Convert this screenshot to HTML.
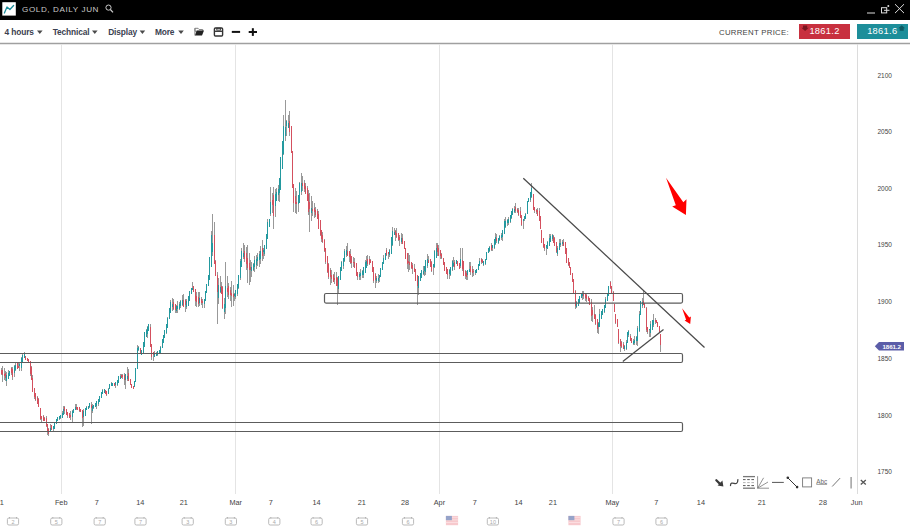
<!DOCTYPE html>
<html><head><meta charset="utf-8">
<style>
*{margin:0;padding:0;box-sizing:border-box}
html,body{width:910px;height:527px;overflow:hidden;background:#fff;font-family:"Liberation Sans",sans-serif}
.a{position:absolute;white-space:nowrap}
#hdr{position:absolute;left:0;top:0;width:910px;height:20px;background:#000}
#title{left:22px;top:4px;font-size:8.1px;color:#c8c8c8;letter-spacing:0.6px;line-height:11px}
.mi{top:26.5px;font-size:8.4px;font-weight:bold;color:#3b4150;line-height:10px;letter-spacing:-0.15px}
.tri{position:absolute;width:0;height:0;border-left:2.9px solid transparent;border-right:2.9px solid transparent;border-top:3.2px solid #484848}
#cp{left:719px;top:28px;font-size:7.8px;color:#444;letter-spacing:0.27px;line-height:10px}
.pbox{position:absolute;top:24px;height:15px;color:#fff;font-size:9.3px;line-height:15px;text-align:center;letter-spacing:0.3px}
.yl{left:877.5px;font-size:6.5px;color:#444;line-height:8px}
.xl{top:497.8px;font-size:7.3px;color:#444;line-height:10px;transform:translateX(-50%)}
</style></head><body>
<div id="hdr"></div>
<svg class="a" style="left:0;top:0" width="910" height="527" viewBox="0 0 910 527">
 <!-- logo -->
 <rect x="2.3" y="2.2" width="13.5" height="13.4" fill="#fff"/>
 <polyline points="4.4,13 7,7 9.9,9.5 13.6,5.5" fill="none" stroke="#1a8a98" stroke-width="1.3" stroke-linejoin="round" stroke-linecap="round"/>
 <!-- search icon -->
 <circle cx="108.5" cy="7.6" r="2.6" fill="none" stroke="#ccc" stroke-width="1"/>
 <line x1="110.4" y1="9.5" x2="113" y2="12.3" stroke="#ccc" stroke-width="1.2"/>
 <!-- window controls -->
 <line x1="867" y1="13" x2="875" y2="13" stroke="#ddd" stroke-width="1"/>
 <rect x="881.5" y="7.7" width="5.2" height="5.2" fill="none" stroke="#ddd" stroke-width="1"/>
 <line x1="884" y1="10.3" x2="889.5" y2="10.3" stroke="#ddd" stroke-width="1"/>
 <circle cx="888.3" cy="6" r="1" fill="#ddd"/>
 <line x1="895" y1="4.2" x2="904" y2="13.1" stroke="#ddd" stroke-width="1"/>
 <line x1="904" y1="4.2" x2="895" y2="13.1" stroke="#ddd" stroke-width="1"/>
 <!-- toolbar separator -->
 <line x1="0" y1="43.5" x2="910" y2="43.5" stroke="#a0a0a0" stroke-width="1.3"/>
 <!-- toolbar icons -->
 <polygon points="37,30.6 42.6,30.6 39.8,33.9" fill="#4a4a4a"/><polygon points="92,30.6 97.6,30.6 94.8,33.9" fill="#4a4a4a"/><polygon points="139.6,30.6 145.2,30.6 142.4,33.9" fill="#4a4a4a"/><polygon points="178.2,30.6 183.79999999999998,30.6 181.0,33.9" fill="#4a4a4a"/>
 <path d="M194.9 28.3h3.2l1 1.2h3.6v1.8h-7.6z" fill="none" stroke="#777" stroke-width="0.9"/>
 <path d="M194.8 35.4l2-5h7.2l-2 5z" fill="#222"/>
 <path d="M194.9 28.3V35.4" stroke="#777" stroke-width="0.9"/>
 <rect x="214.4" y="28" width="8.2" height="8" rx="1" fill="none" stroke="#333" stroke-width="1.4"/>
 <rect x="216.8" y="28.2" width="3.6" height="1.9" fill="none" stroke="#333" stroke-width="0.9"/>
 <line x1="214.4" y1="31.3" x2="222.6" y2="31.3" stroke="#333" stroke-width="1.3"/>
 <line x1="231.8" y1="31.9" x2="240.1" y2="31.9" stroke="#111" stroke-width="2"/>
 <line x1="248.7" y1="32" x2="257" y2="32" stroke="#111" stroke-width="2"/>
 <line x1="252.85" y1="28.2" x2="252.85" y2="35.9" stroke="#111" stroke-width="2"/>
 <!-- chart grid -->
 <g stroke="#e4e4e4" stroke-width="1">
  <line x1="61.5" y1="44" x2="61.5" y2="494"/>
  <line x1="235.5" y1="44" x2="235.5" y2="494"/>
  <line x1="439.5" y1="44" x2="439.5" y2="494"/>
  <line x1="612.5" y1="44" x2="612.5" y2="494"/>
 </g>
 <line x1="857.5" y1="44" x2="857.5" y2="494" stroke="#dcdcdc" stroke-width="1"/>
 <!-- candles -->
 <path d='M1.5 368.0V374.9M2.5 366.0V381.8M4.5 368.2V379.6M5.5 371.1V380.7M6.5 372.3V386.0M8.5 370.4V378.7M9.5 370.8V376.2M11.5 367.1V374.5M12.5 366.6V379.5M14.5 364.9V377.0M15.5 363.0V370.8M17.5 363.0V368.6M18.5 363.0V368.4M19.5 362.4V371.3M21.5 357.3V370.7M22.5 353.7V362.9M24.5 351.9V358.3M25.5 356.1V359.9M27.5 357.6V361.3M28.5 358.8V362.5M30.5 361.0V375.8M31.5 366.3V380.1M32.5 374.9V392.3M34.5 387.7V398.6M35.5 393.5V400.6M37.5 396.4V403.6M38.5 398.2V407.3M40.5 407.7V419.5M41.5 416.5V422.0M43.5 415.1V420.7M44.5 416.9V420.7M46.5 416.1V426.5M47.5 424.1V435.2M48.5 427.9V435.5M50.5 424.3V432.1M51.5 424.5V430.2M53.5 426.3V431.1M54.5 423.2V428.6M56.5 418.7V424.3M57.5 416.9V420.7M59.5 415.5V419.6M60.5 415.3V419.2M62.5 410.7V418.1M63.5 405.5V415.1M64.5 406.3V414.2M66.5 409.3V415.0M67.5 411.9V417.9M69.5 413.4V418.0M70.5 410.7V419.6M72.5 410.2V422.0M73.5 408.6V413.1M75.5 404.2V410.1M76.5 403.9V410.0M77.5 406.7V410.0M79.5 406.6V411.6M80.5 408.6V411.9M82.5 409.6V426.8M83.5 409.0V425.7M85.5 407.5V415.8M86.5 406.4V410.0M88.5 406.0V409.2M89.5 402.5V407.8M91.5 402.4V423.8M92.5 404.0V412.8M93.5 405.3V408.6M95.5 403.0V407.3M96.5 401.3V408.7M98.5 398.7V406.2M99.5 395.7V402.1M101.5 392.1V398.3M102.5 388.8V394.2M104.5 388.9V393.1M105.5 389.9V393.8M106.5 390.8V396.0M108.5 388.2V393.9M109.5 384.2V389.3M111.5 382.3V385.8M112.5 383.0V385.7M114.5 383.3V385.7M115.5 382.5V387.6M117.5 380.0V385.8M118.5 375.6V382.6M120.5 374.0V379.3M121.5 373.9V378.4M122.5 374.2V378.8M124.5 373.2V384.7M125.5 373.8V389.4M127.5 367.2V380.8M128.5 369.4V381.0M130.5 378.6V385.2M131.5 383.9V387.6M133.5 385.5V389.3M134.5 381.3V386.6M135.5 368.5V382.3M137.5 344.7V368.8M138.5 346.0V351.0M140.5 347.7V352.9M141.5 349.9V354.8M143.5 342.1V353.0M144.5 332.1V346.8M146.5 328.9V337.1M147.5 326.0V337.8M148.5 324.0V330.7M150.5 324.0V346.6M151.5 343.7V359.7M153.5 351.6V360.5M154.5 351.3V357.4M156.5 351.6V356.3M157.5 351.5V356.0M159.5 349.6V354.4M160.5 346.2V354.4M162.5 339.3V348.3M163.5 334.6V343.0M164.5 330.4V338.0M166.5 324.5V333.5M167.5 316.8V328.4M169.5 308.2V319.1M170.5 300.4V312.9M172.5 297.9V310.7M173.5 298.5V310.0M175.5 304.0V312.6M176.5 305.0V313.1M177.5 300.5V312.7M179.5 302.3V309.9M180.5 300.1V308.4M182.5 294.6V305.9M183.5 294.0V306.7M185.5 298.7V312.3M186.5 299.4V309.2M188.5 296.4V306.0M189.5 291.1V300.6M191.5 287.7V294.3M192.5 282.4V290.4M193.5 285.9V292.1M195.5 288.8V306.4M196.5 291.7V307.4M198.5 292.2V306.8M199.5 292.0V305.7M201.5 296.5V304.8M202.5 298.8V307.6M204.5 298.5V308.2M205.5 291.0V301.0M206.5 283.6V293.4M208.5 274.9V285.9M209.5 257.4V280.1M211.5 230.6V267.0M212.5 213.7V256.0M214.5 222.0V264.1M215.5 259.9V276.0M217.5 272.4V323.6M218.5 277.7V304.0M220.5 276.0V292.9M221.5 281.5V294.0M222.5 286.0V308.5M224.5 297.5V319.0M225.5 262.0V314.1M227.5 276.3V297.4M228.5 283.0V298.5M230.5 286.8V301.1M231.5 280.7V306.8M233.5 285.1V306.2M234.5 292.5V300.7M235.5 290.0V298.8M237.5 284.5V296.4M238.5 274.9V288.8M240.5 258.5V279.8M241.5 247.7V266.7M243.5 243.2V259.1M244.5 245.3V262.0M246.5 247.2V269.9M247.5 245.1V283.0M249.5 253.2V284.6M250.5 260.3V281.5M251.5 262.0V277.4M253.5 262.9V270.9M254.5 256.1V271.7M256.5 255.3V268.5M257.5 253.2V265.7M259.5 250.7V266.9M260.5 246.1V264.1M262.5 240.3V260.8M263.5 248.3V259.3M264.5 244.8V255.9M266.5 234.1V248.7M267.5 219.3V238.9M269.5 219.3V226.8M270.5 187.2V216.1M272.5 193.2V212.9M273.5 187.3V228.8M275.5 188.5V217.2M276.5 187.8V201.4M278.5 185.0V200.6M279.5 177.7V201.8M280.5 156.8V190.2M282.5 140.8V169.3M283.5 115.0V154.6M285.5 100.3V141.1M286.5 119.7V136.1M288.5 115.1V128.3M289.5 111.0V135.6M291.5 125.8V153.0M292.5 150.9V187.9M293.5 184.1V211.7M295.5 187.8V213.3M296.5 190.6V214.2M298.5 194.6V211.5M299.5 182.2V203.0M301.5 173.2V195.2M302.5 175.8V191.1M304.5 180.2V191.6M305.5 183.2V194.3M307.5 186.4V201.3M308.5 189.9V215.2M309.5 193.0V231.6M311.5 196.1V220.7M312.5 201.0V216.3M314.5 203.2V217.7M315.5 206.8V216.5M317.5 209.2V219.2M318.5 210.6V229.2M320.5 219.6V236.1M321.5 229.8V241.5M322.5 231.8V242.5M324.5 239.0V252.0M325.5 248.0V263.5M327.5 256.3V272.5M328.5 263.0V279.1M330.5 267.5V285.0M331.5 270.2V282.6M333.5 274.3V282.2M334.5 272.2V283.7M336.5 272.2V286.1M337.5 276.9V305.0M338.5 275.6V294.2M340.5 267.0V280.1M341.5 260.7V271.0M343.5 258.0V268.9M344.5 248.6V261.5M346.5 246.1V257.2M347.5 243.2V256.0M349.5 250.5V262.1M350.5 248.6V264.1M351.5 256.4V267.5M353.5 257.0V267.1M354.5 257.8V268.1M356.5 263.5V275.9M357.5 271.9V280.0M359.5 271.5V280.0M360.5 269.1V280.2M362.5 269.7V278.2M363.5 266.7V278.0M365.5 260.0V272.6M366.5 256.0V268.1M367.5 255.0V266.3M369.5 256.3V264.8M370.5 258.7V263.4M372.5 261.2V271.9M373.5 267.1V283.0M375.5 272.6V288.4M376.5 275.8V283.2M378.5 274.1V282.7M379.5 274.8V281.6M380.5 268.1V276.6M382.5 262.0V269.6M383.5 254.8V263.8M385.5 252.9V260.4M386.5 247.8V256.1M388.5 252.1V258.9M389.5 248.8V256.7M391.5 236.5V254.1M392.5 227.0V246.1M394.5 227.5V235.1M395.5 229.7V240.6M396.5 227.5V238.0M398.5 232.6V241.2M399.5 234.9V245.5M401.5 232.9V244.3M402.5 234.4V244.0M404.5 240.9V249.4M405.5 247.6V259.0M407.5 253.4V268.9M408.5 252.8V272.3M409.5 255.1V270.2M411.5 261.5V268.5M412.5 263.0V274.4M414.5 264.4V271.6M415.5 268.7V281.2M417.5 275.4V305.0M418.5 276.3V294.9M420.5 273.1V281.4M421.5 270.2V277.9M423.5 266.2V274.8M424.5 266.2V276.3M425.5 260.0V274.7M427.5 253.7V267.7M428.5 255.8V262.5M430.5 258.7V266.5M431.5 261.3V271.9M433.5 264.5V275.1M434.5 250.2V267.5M436.5 243.1V257.8M437.5 242.9V255.6M438.5 244.9V255.6M440.5 250.1V259.0M441.5 252.9V258.5M443.5 257.5V264.7M444.5 261.7V271.1M446.5 266.9V274.1M447.5 268.8V279.4M449.5 268.7V279.4M450.5 266.7V275.8M452.5 260.4V270.6M453.5 257.1V267.0M454.5 260.0V269.6M456.5 259.9V264.4M457.5 261.2V265.8M459.5 262.6V268.6M460.5 248.0V267.9M462.5 247.5V270.8M463.5 260.8V276.3M465.5 270.0V278.7M466.5 270.6V280.2M467.5 269.5V279.9M469.5 261.6V272.0M470.5 261.6V274.9M472.5 265.8V276.5M473.5 268.6V276.0M475.5 270.0V274.6M476.5 268.6V272.6M478.5 264.4V269.6M479.5 258.4V265.7M481.5 258.0V263.7M482.5 258.9V263.3M483.5 260.8V265.5M485.5 258.6V264.9M486.5 252.0V259.8M488.5 247.9V252.9M489.5 245.7V252.3M491.5 243.0V250.6M492.5 245.0V250.7M494.5 239.5V248.5M495.5 232.6V245.0M496.5 233.5V242.8M498.5 237.6V243.7M499.5 234.9V241.0M501.5 232.9V240.0M502.5 229.9V241.3M504.5 219.3V233.6M505.5 217.0V227.8M507.5 218.8V225.6M508.5 217.3V224.9M510.5 215.3V223.0M511.5 210.6V218.7M512.5 208.2V215.0M514.5 206.3V213.2M515.5 203.4V212.6M517.5 207.5V213.2M518.5 207.8V215.7M520.5 207.3V218.2M521.5 215.4V225.9M523.5 219.2V229.2M524.5 215.9V221.0M525.5 212.6V218.5M527.5 201.1V214.4M528.5 197.8V202.3M530.5 192.2V202.3M531.5 183.0V197.7M533.5 194.3V209.7M534.5 207.5V212.6M536.5 208.9V213.7M537.5 208.1V216.4M539.5 208.0V220.7M540.5 215.6V229.1M541.5 229.7V243.1M543.5 237.9V247.7M544.5 243.8V250.7M546.5 245.2V255.1M547.5 241.1V249.4M549.5 234.2V245.5M550.5 234.3V242.3M552.5 233.5V240.5M553.5 234.8V243.1M554.5 236.6V246.1M556.5 241.8V253.2M557.5 245.9V256.2M559.5 238.9V250.3M560.5 238.7V247.2M562.5 239.7V246.4M563.5 239.2V246.3M565.5 241.6V253.8M566.5 247.9V262.6M568.5 257.7V266.3M569.5 261.6V268.4M570.5 267.3V275.2M572.5 273.0V281.8M573.5 279.3V293.1M575.5 290.0V308.7M576.5 301.1V308.2M578.5 299.1V305.6M579.5 296.2V302.8M581.5 292.9V298.4M582.5 290.5V299.6M583.5 291.1V298.5M585.5 292.5V300.9M586.5 294.0V301.6M588.5 295.7V300.8M589.5 298.4V305.0M591.5 299.0V321.4M592.5 307.4V322.2M594.5 304.8V319.1M595.5 313.6V325.1M597.5 318.9V332.5M598.5 322.1V333.6M599.5 309.0V327.1M601.5 310.8V319.2M602.5 309.1V314.9M604.5 305.5V312.5M605.5 296.9V307.9M607.5 293.0V300.6M608.5 285.7V296.3M610.5 281.0V289.3M611.5 286.2V293.8M613.5 290.6V300.5M614.5 304.4V311.7M615.5 314.2V323.7M617.5 319.0V326.7M618.5 329.2V343.8M620.5 339.1V351.8M621.5 341.4V348.3M623.5 341.5V348.6M624.5 345.2V351.3M626.5 340.0V350.4M627.5 331.5V343.1M628.5 329.9V337.0M630.5 334.1V341.0M631.5 338.1V343.4M633.5 339.3V345.2M634.5 335.5V344.6M636.5 335.6V344.7M637.5 326.4V345.9M639.5 311.0V331.9M640.5 301.1V315.3M642.5 297.7V308.0M643.5 290.0V304.9M644.5 303.0V308.4M646.5 307.1V331.7M647.5 326.7V333.9M649.5 329.0V336.6M650.5 320.9V337.2M652.5 320.4V330.4M653.5 313.5V326.7M655.5 318.2V323.9M656.5 320.1V323.4M657.5 321.6V326.9M659.5 326.4V332.4M660.5 333.7V352.2' stroke='#999' stroke-width='1' fill='none' shape-rendering='crispEdges'/><path d='M6 375h1V381h-1zM8 373h1V379h-1zM9 371h1V376h-1zM14 366h1V373h-1zM15 365h1V370h-1zM19 364h1V366h-1zM21 358h1V368h-1zM22 355h1V363h-1zM24 354h1V358h-1zM50 428h1V432h-1zM53 426h1V429h-1zM54 423h1V429h-1zM56 419h1V424h-1zM57 417h1V421h-1zM59 416h1V419h-1zM60 415h1V418h-1zM62 413h1V418h-1zM63 409h1V415h-1zM72 411h1V417h-1zM73 409h1V413h-1zM75 407h1V410h-1zM83 411h1V417h-1zM85 408h1V416h-1zM86 407h1V410h-1zM88 406h1V409h-1zM89 403h1V407h-1zM92 406h1V411h-1zM93 405h1V408h-1zM95 403h1V407h-1zM96 401h1V406h-1zM98 399h1V404h-1zM99 396h1V402h-1zM101 392h1V398h-1zM102 390h1V394h-1zM104 389h1V393h-1zM108 389h1V394h-1zM109 384h1V389h-1zM111 383h1V386h-1zM112 383h1V386h-1zM115 382h1V385h-1zM117 380h1V385h-1zM118 376h1V383h-1zM120 376h1V379h-1zM125 374h1V380h-1zM127 376h1V379h-1zM134 381h1V387h-1zM135 368h1V382h-1zM137 348h1V369h-1zM138 347h1V350h-1zM141 350h1V355h-1zM143 342h1V353h-1zM144 332h1V347h-1zM146 330h1V337h-1zM147 327h1V334h-1zM148 324h1V331h-1zM154 354h1V357h-1zM156 353h1V356h-1zM157 351h1V355h-1zM159 350h1V354h-1zM160 347h1V353h-1zM162 339h1V348h-1zM163 335h1V343h-1zM164 330h1V338h-1zM166 324h1V333h-1zM167 318h1V328h-1zM169 308h1V319h-1zM170 302h1V313h-1zM172 304h1V307h-1zM176 306h1V311h-1zM177 306h1V309h-1zM179 304h1V309h-1zM180 301h1V306h-1zM182 300h1V305h-1zM186 301h1V307h-1zM188 296h1V306h-1zM189 291h1V301h-1zM191 288h1V294h-1zM192 288h1V290h-1zM199 298h1V303h-1zM204 299h1V304h-1zM205 291h1V301h-1zM206 284h1V293h-1zM208 275h1V286h-1zM209 257h1V280h-1zM211 235h1V267h-1zM212 243h1V252h-1zM218 285h1V298h-1zM220 287h1V292h-1zM224 304h1V312h-1zM225 286h1V308h-1zM234 294h1V296h-1zM235 290h1V297h-1zM237 284h1V294h-1zM238 275h1V288h-1zM240 261h1V278h-1zM241 251h1V267h-1zM243 253h1V257h-1zM251 267h1V271h-1zM253 264h1V270h-1zM254 260h1V267h-1zM256 259h1V265h-1zM257 257h1V261h-1zM259 254h1V260h-1zM260 251h1V259h-1zM263 250h1V252h-1zM264 245h1V254h-1zM266 234h1V249h-1zM267 222h1V239h-1zM269 219h1V227h-1zM270 202h1V214h-1zM275 194h1V206h-1zM276 192h1V201h-1zM278 189h1V195h-1zM279 178h1V193h-1zM280 157h1V190h-1zM282 141h1V169h-1zM283 126h1V154h-1zM285 127h1V136h-1zM286 121h1V126h-1zM288 123h1V128h-1zM298 195h1V204h-1zM299 183h1V203h-1zM301 183h1V192h-1zM311 208h1V213h-1zM338 276h1V289h-1zM340 267h1V280h-1zM341 262h1V271h-1zM343 258h1V266h-1zM344 251h1V261h-1zM346 250h1V255h-1zM359 274h1V277h-1zM360 273h1V276h-1zM362 271h1V275h-1zM363 267h1V275h-1zM365 262h1V273h-1zM366 261h1V268h-1zM376 278h1V281h-1zM378 278h1V281h-1zM379 275h1V278h-1zM380 268h1V277h-1zM382 262h1V270h-1zM383 258h1V264h-1zM385 253h1V260h-1zM389 250h1V255h-1zM391 237h1V254h-1zM392 231h1V245h-1zM394 232h1V235h-1zM401 238h1V242h-1zM418 276h1V288h-1zM420 273h1V281h-1zM421 270h1V278h-1zM423 271h1V274h-1zM424 266h1V271h-1zM425 260h1V272h-1zM427 259h1V266h-1zM433 264h1V267h-1zM434 251h1V267h-1zM436 248h1V258h-1zM449 270h1V274h-1zM450 267h1V275h-1zM452 261h1V270h-1zM453 263h1V266h-1zM456 260h1V264h-1zM460 259h1V266h-1zM467 270h1V275h-1zM469 269h1V272h-1zM475 270h1V273h-1zM476 269h1V273h-1zM478 264h1V270h-1zM479 261h1V266h-1zM483 261h1V265h-1zM485 259h1V264h-1zM486 252h1V260h-1zM488 248h1V253h-1zM489 247h1V251h-1zM492 245h1V248h-1zM494 239h1V248h-1zM495 237h1V244h-1zM498 238h1V243h-1zM499 236h1V240h-1zM501 235h1V238h-1zM502 230h1V237h-1zM504 221h1V234h-1zM505 221h1V227h-1zM507 220h1V223h-1zM508 219h1V223h-1zM510 215h1V222h-1zM511 211h1V218h-1zM512 209h1V215h-1zM514 209h1V212h-1zM523 219h1V221h-1zM524 216h1V219h-1zM525 214h1V219h-1zM527 201h1V214h-1zM528 198h1V202h-1zM530 192h1V200h-1zM531 188h1V197h-1zM546 245h1V248h-1zM547 242h1V249h-1zM549 238h1V246h-1zM550 236h1V242h-1zM552 235h1V239h-1zM557 248h1V254h-1zM559 243h1V250h-1zM560 243h1V245h-1zM562 242h1V244h-1zM576 302h1V307h-1zM578 299h1V306h-1zM579 296h1V303h-1zM581 293h1V298h-1zM582 294h1V296h-1zM598 323h1V327h-1zM599 314h1V327h-1zM601 311h1V319h-1zM602 309h1V315h-1zM604 305h1V312h-1zM605 299h1V308h-1zM607 293h1V301h-1zM608 286h1V296h-1zM624 346h1V349h-1zM626 342h1V349h-1zM627 332h1V343h-1zM628 331h1V335h-1zM633 341h1V344h-1zM634 340h1V343h-1zM636 337h1V341h-1zM637 328h1V341h-1zM639 314h1V331h-1zM640 301h1V315h-1zM642 302h1V306h-1zM649 329h1V330h-1zM650 324h1V333h-1zM652 320h1V330h-1zM653 320h1V325h-1z' fill='#23999f' shape-rendering='crispEdges'/><path d='M1 370h1V374h-1zM2 370h1V375h-1zM4 374h1V376h-1zM5 373h1V378h-1zM11 368h1V373h-1zM12 369h1V377h-1zM17 363h1V369h-1zM18 366h1V368h-1zM25 356h1V360h-1zM27 358h1V361h-1zM28 359h1V363h-1zM30 361h1V374h-1zM31 367h1V380h-1zM32 378h1V392h-1zM34 388h1V397h-1zM35 393h1V400h-1zM37 397h1V404h-1zM38 399h1V407h-1zM40 408h1V419h-1zM41 416h1V419h-1zM43 416h1V421h-1zM44 418h1V421h-1zM46 418h1V426h-1zM47 424h1V432h-1zM48 429h1V434h-1zM51 425h1V430h-1zM64 407h1V411h-1zM66 409h1V415h-1zM67 412h1V416h-1zM69 413h1V418h-1zM70 415h1V417h-1zM76 407h1V409h-1zM77 407h1V410h-1zM79 407h1V411h-1zM80 409h1V412h-1zM82 410h1V418h-1zM91 405h1V408h-1zM105 390h1V394h-1zM106 391h1V395h-1zM114 383h1V386h-1zM121 375h1V378h-1zM122 375h1V377h-1zM124 375h1V380h-1zM128 373h1V381h-1zM130 379h1V385h-1zM131 384h1V388h-1zM133 386h1V389h-1zM140 348h1V353h-1zM150 327h1V347h-1zM151 344h1V357h-1zM153 352h1V355h-1zM173 302h1V309h-1zM175 304h1V310h-1zM183 300h1V307h-1zM185 300h1V305h-1zM193 286h1V292h-1zM195 289h1V301h-1zM196 296h1V302h-1zM198 297h1V304h-1zM201 299h1V303h-1zM202 301h1V303h-1zM214 235h1V264h-1zM215 261h1V276h-1zM217 275h1V292h-1zM221 286h1V294h-1zM222 287h1V308h-1zM227 288h1V292h-1zM228 286h1V295h-1zM230 290h1V295h-1zM231 293h1V296h-1zM233 294h1V297h-1zM244 251h1V259h-1zM246 253h1V264h-1zM247 258h1V268h-1zM249 263h1V270h-1zM250 267h1V270h-1zM262 248h1V256h-1zM272 200h1V205h-1zM273 195h1V216h-1zM289 121h1V132h-1zM291 126h1V153h-1zM292 151h1V188h-1zM293 184h1V203h-1zM295 196h1V204h-1zM296 202h1V204h-1zM302 183h1V186h-1zM304 183h1V189h-1zM305 186h1V194h-1zM307 188h1V201h-1zM308 194h1V212h-1zM309 202h1V209h-1zM312 209h1V211h-1zM314 208h1V212h-1zM315 210h1V215h-1zM317 211h1V219h-1zM318 214h1V229h-1zM320 220h1V235h-1zM321 230h1V239h-1zM322 235h1V242h-1zM324 240h1V251h-1zM325 248h1V262h-1zM327 256h1V272h-1zM328 264h1V277h-1zM330 270h1V277h-1zM331 275h1V279h-1zM333 275h1V282h-1zM334 278h1V280h-1zM336 277h1V286h-1zM337 278h1V286h-1zM347 251h1V256h-1zM349 251h1V257h-1zM350 254h1V263h-1zM351 256h1V263h-1zM353 262h1V263h-1zM354 262h1V268h-1zM356 263h1V276h-1zM357 272h1V277h-1zM367 259h1V264h-1zM369 259h1V264h-1zM370 260h1V263h-1zM372 261h1V272h-1zM373 267h1V281h-1zM375 274h1V280h-1zM386 250h1V255h-1zM388 252h1V254h-1zM395 231h1V235h-1zM396 233h1V237h-1zM398 233h1V240h-1zM399 237h1V240h-1zM402 238h1V244h-1zM404 241h1V249h-1zM405 248h1V259h-1zM407 253h1V264h-1zM408 261h1V263h-1zM409 262h1V265h-1zM411 262h1V268h-1zM412 265h1V269h-1zM414 268h1V272h-1zM415 269h1V281h-1zM417 275h1V286h-1zM428 260h1V263h-1zM430 259h1V267h-1zM431 262h1V271h-1zM437 245h1V252h-1zM438 248h1V256h-1zM440 250h1V256h-1zM441 254h1V258h-1zM443 258h1V265h-1zM444 262h1V271h-1zM446 267h1V274h-1zM447 269h1V275h-1zM454 262h1V267h-1zM457 261h1V266h-1zM459 263h1V269h-1zM462 260h1V269h-1zM463 261h1V276h-1zM465 271h1V276h-1zM466 273h1V277h-1zM470 266h1V272h-1zM472 269h1V273h-1zM473 271h1V272h-1zM481 259h1V262h-1zM482 260h1V263h-1zM491 245h1V250h-1zM496 238h1V241h-1zM515 207h1V211h-1zM517 209h1V212h-1zM518 210h1V215h-1zM520 211h1V218h-1zM521 215h1V225h-1zM533 194h1V210h-1zM534 207h1V211h-1zM536 210h1V212h-1zM537 210h1V216h-1zM539 211h1V221h-1zM540 216h1V229h-1zM541 230h1V243h-1zM543 238h1V247h-1zM544 244h1V249h-1zM553 236h1V243h-1zM554 238h1V246h-1zM556 242h1V252h-1zM563 242h1V246h-1zM565 242h1V254h-1zM566 248h1V263h-1zM568 258h1V265h-1zM569 262h1V268h-1zM570 267h1V275h-1zM572 273h1V282h-1zM573 279h1V293h-1zM575 291h1V306h-1zM583 294h1V296h-1zM585 294h1V298h-1zM586 295h1V299h-1zM588 297h1V301h-1zM589 298h1V305h-1zM591 302h1V316h-1zM592 310h1V315h-1zM594 314h1V319h-1zM595 315h1V324h-1zM597 319h1V329h-1zM610 282h1V288h-1zM611 286h1V294h-1zM613 292h1V301h-1zM614 304h1V312h-1zM615 314h1V323h-1zM617 319h1V327h-1zM618 329h1V343h-1zM620 339h1V346h-1zM621 342h1V347h-1zM623 344h1V349h-1zM630 336h1V341h-1zM631 338h1V343h-1zM643 301h1V305h-1zM644 303h1V308h-1zM646 308h1V330h-1zM647 327h1V332h-1zM655 320h1V322h-1zM656 320h1V323h-1zM657 322h1V327h-1zM659 326h1V332h-1zM660 334h1V345h-1z' fill='#d4505e' shape-rendering='crispEdges'/>
 <!-- rectangles -->
 <g fill="none" stroke="#5c5c5c" stroke-width="1.2">
  <rect x="324.5" y="293.5" width="358" height="9.6" rx="1.5"/>
  <rect x="-5" y="353.5" width="687.5" height="9" rx="1.5"/>
  <rect x="-5" y="422.5" width="687.5" height="9" rx="1.5"/>
 </g>
 <g fill="none" stroke="#4a4a4a" stroke-width="1.25">
  <line x1="523.3" y1="178.2" x2="704.5" y2="347.5"/>
  <line x1="622.8" y1="361.6" x2="663.5" y2="329.6"/>
 </g>
 <!-- arrows -->
 <polygon points="666,177.8 683.3,202.3 686.5,199.2 685.9,215.1 672.2,206.5 675.8,205.3" fill="#ff0000"/>
 <polygon points="682.1,308.3 689.3,317.4 690.9,316.5 690.2,324 684.6,320.6 686.1,319.7" fill="#ff0000"/>
 <!-- price tag -->
 <polygon points="874.8,346.3 879,342 904,342 904,350.6 879,350.6" fill="#5b5da8"/>
 <!-- drawing toolbar -->
 <g>
  <line x1="716.3" y1="480.2" x2="720.5" y2="484.4" stroke="#3a3a3a" stroke-width="2.2" stroke-linecap="round"/><polygon points="723.4,486.4 717.6,485.4 722.4,480.6" fill="#3a3a3a"/>
  <path d="M730.5 485.6c0-3 1.8-2.6 3.6-2.2s3.8 0.4 3.8-3.8" fill="none" stroke="#444" stroke-width="1.3" stroke-linecap="round"/>
  <line x1="743" y1="476.6" x2="755" y2="476.6" stroke="#777" stroke-width="1.3"/>
  <line x1="743" y1="488.2" x2="755" y2="488.2" stroke="#777" stroke-width="1.3"/>
  <line x1="743" y1="479.6" x2="755" y2="479.6" stroke="#444" stroke-width="0.9" stroke-dasharray="2.6 1.6"/>
  <line x1="743" y1="482.6" x2="755" y2="482.6" stroke="#aaa" stroke-width="0.9" stroke-dasharray="2.6 1.6"/>
  <line x1="743" y1="485.6" x2="755" y2="485.6" stroke="#444" stroke-width="0.9" stroke-dasharray="2.6 1.6"/>
  <path d="M757.6 476.2V488.2H769M757.6 488.2L763.6 477.8M757.6 488.2L768 482" fill="none" stroke="#777" stroke-width="0.8"/>
  <line x1="772" y1="482.4" x2="783.8" y2="482.4" stroke="#555" stroke-width="1"/>
  <line x1="787.8" y1="477.8" x2="797.1" y2="487.1" stroke="#333" stroke-width="1"/>
  <circle cx="787.8" cy="477.8" r="1.3" fill="#333"/>
  <circle cx="797.1" cy="487.1" r="1.3" fill="#333"/>
  <rect x="802.6" y="477.9" width="9" height="9" fill="none" stroke="#777" stroke-width="0.9"/>
  <line x1="816.3" y1="484.4" x2="827.1" y2="484.4" stroke="#777" stroke-width="0.7"/>
  <line x1="832.2" y1="486.5" x2="840.1" y2="478.1" stroke="#666" stroke-width="0.9"/>
  <line x1="851.1" y1="477.1" x2="851.1" y2="488.6" stroke="#999" stroke-width="1.4"/>
  <path d="M860.8 480L865.8 484.6M865.8 480L860.8 484.6" stroke="#555" stroke-width="1.3"/>
 </g>
 <!-- calendar icons -->
 <g fill="none" stroke="#a8a8a8" stroke-width="0.8">
  <rect x='7.4' y='518' width='11.2' height='7' rx='1.5'/><path d='M9.5 517v1.5M16.5 517v1.5'/><rect x='50.7' y='518' width='11.2' height='7' rx='1.5'/><path d='M52.8 517v1.5M59.8 517v1.5'/><rect x='94.1' y='518' width='11.2' height='7' rx='1.5'/><path d='M96.2 517v1.5M103.2 517v1.5'/><rect x='134.9' y='518' width='11.2' height='7' rx='1.5'/><path d='M137.0 517v1.5M144.0 517v1.5'/><rect x='182.1' y='518' width='11.2' height='7' rx='1.5'/><path d='M184.2 517v1.5M191.2 517v1.5'/><rect x='225.3' y='518' width='11.2' height='7' rx='1.5'/><path d='M227.4 517v1.5M234.4 517v1.5'/><rect x='268.7' y='518' width='11.2' height='7' rx='1.5'/><path d='M270.8 517v1.5M277.8 517v1.5'/><rect x='311.0' y='518' width='11.2' height='7' rx='1.5'/><path d='M313.1 517v1.5M320.1 517v1.5'/><rect x='356.4' y='518' width='11.2' height='7' rx='1.5'/><path d='M358.5 517v1.5M365.5 517v1.5'/><rect x='402.4' y='518' width='11.2' height='7' rx='1.5'/><path d='M404.5 517v1.5M411.5 517v1.5'/><rect x='487.3' y='518' width='11.2' height='7' rx='1.5'/><path d='M489.4 517v1.5M496.4 517v1.5'/><rect x='612.9' y='518' width='11.2' height='7' rx='1.5'/><path d='M615.0 517v1.5M622.0 517v1.5'/><rect x='655.9' y='518' width='11.2' height='7' rx='1.5'/><path d='M658.0 517v1.5M665.0 517v1.5'/>
 </g>
 <!-- flags -->
 <rect x='445.9' y='515.9' width='12.2' height='9.3' fill='#f7c9cd'/><path d='M445.9 517.3h12.2M445.9 519.9h12.2M445.9 522.5h12.2' stroke='#fbe2e4' stroke-width='0.8'/><rect x='445.9' y='515.9' width='6' height='4.3' fill='#96a3c9'/><rect x='568.4' y='515.9' width='12.2' height='9.3' fill='#f7c9cd'/><path d='M568.4 517.3h12.2M568.4 519.9h12.2M568.4 522.5h12.2' stroke='#fbe2e4' stroke-width='0.8'/><rect x='568.4' y='515.9' width='6' height='4.3' fill='#96a3c9'/><text x='13.0' y='524' font-size='5.5' fill='#aaa' text-anchor='middle' font-family='Liberation Sans'>2</text><text x='56.3' y='524' font-size='5.5' fill='#aaa' text-anchor='middle' font-family='Liberation Sans'>5</text><text x='99.7' y='524' font-size='5.5' fill='#aaa' text-anchor='middle' font-family='Liberation Sans'>7</text><text x='140.5' y='524' font-size='5.5' fill='#aaa' text-anchor='middle' font-family='Liberation Sans'>7</text><text x='187.7' y='524' font-size='5.5' fill='#aaa' text-anchor='middle' font-family='Liberation Sans'>3</text><text x='230.9' y='524' font-size='5.5' fill='#aaa' text-anchor='middle' font-family='Liberation Sans'>3</text><text x='274.3' y='524' font-size='5.5' fill='#aaa' text-anchor='middle' font-family='Liberation Sans'>4</text><text x='316.6' y='524' font-size='5.5' fill='#aaa' text-anchor='middle' font-family='Liberation Sans'>6</text><text x='362.0' y='524' font-size='5.5' fill='#aaa' text-anchor='middle' font-family='Liberation Sans'>5</text><text x='408.0' y='524' font-size='5.5' fill='#aaa' text-anchor='middle' font-family='Liberation Sans'>6</text><text x='492.9' y='524' font-size='5.5' fill='#aaa' text-anchor='middle' font-family='Liberation Sans'>10</text><text x='618.5' y='524' font-size='5.5' fill='#aaa' text-anchor='middle' font-family='Liberation Sans'>7</text><text x='661.5' y='524' font-size='5.5' fill='#aaa' text-anchor='middle' font-family='Liberation Sans'>6</text>
</svg>
<div class="a" id="title">GOLD, DAILY JUN</div>
<div class="a mi" style="left:4.6px">4 hours</div>
<div class="a mi" style="left:52.7px">Technical</div>
<div class="a mi" style="left:108.2px">Display</div>
<div class="a mi" style="left:154.9px">More</div>
<div class="a" id="cp">CURRENT PRICE:</div>
<div class="pbox" style="left:799px;width:51px;background:#c8303f">1861.2</div>
<div class="pbox" style="left:857px;width:50.5px;background:#1d8e9a">1861.6</div>
<div class="a" style="left:882.5px;top:342px;font-size:6.2px;font-weight:bold;color:#fff;line-height:9px;letter-spacing:-0.1px">1861.2</div>
<div class="a yl" style="top:71.5px">2100</div>
<div class="a yl" style="top:128px">2050</div>
<div class="a yl" style="top:184.5px">2000</div>
<div class="a yl" style="top:241.2px">1950</div>
<div class="a yl" style="top:297.8px">1900</div>
<div class="a yl" style="top:354.6px">1850</div>
<div class="a yl" style="top:411.6px">1800</div>
<div class="a yl" style="top:468.2px">1750</div>
<div class='a xl' style='left:-0.2px'>31</div><div class='a xl' style='left:61.2px'>Feb</div><div class='a xl' style='left:96.7px'>7</div><div class='a xl' style='left:140.3px'>14</div><div class='a xl' style='left:183.7px'>21</div><div class='a xl' style='left:235.7px'>Mar</div><div class='a xl' style='left:270.9px'>7</div><div class='a xl' style='left:316.6px'>14</div><div class='a xl' style='left:361.7px'>21</div><div class='a xl' style='left:405px'>28</div><div class='a xl' style='left:439.4px'>Apr</div><div class='a xl' style='left:474.8px'>7</div><div class='a xl' style='left:518.5px'>14</div><div class='a xl' style='left:552.9px'>21</div><div class='a xl' style='left:612.3px'>May</div><div class='a xl' style='left:656.3px'>7</div><div class='a xl' style='left:700.9px'>14</div><div class='a xl' style='left:761.7px'>21</div><div class='a xl' style='left:822.9px'>28</div><div class='a xl' style='left:856.7px'>Jun</div>
<div class="a" style="left:816.3px;top:477.6px;font-size:6.3px;color:#666;line-height:7px">Abc</div>
<svg class="a" style="left:0;top:0" width="910" height="527" viewBox="0 0 910 527">
 <path d="M803 25.6h4.2v2.2h1.6l-3.7 3.2l-3.7-3.2h1.6z" fill="#7a1520"/>
 <path d="M901.7 25.2l3.4 3h-1.4v2.6h-4v-2.6h-1.4z" fill="#0d5a62"/>
</svg>
</body></html>
